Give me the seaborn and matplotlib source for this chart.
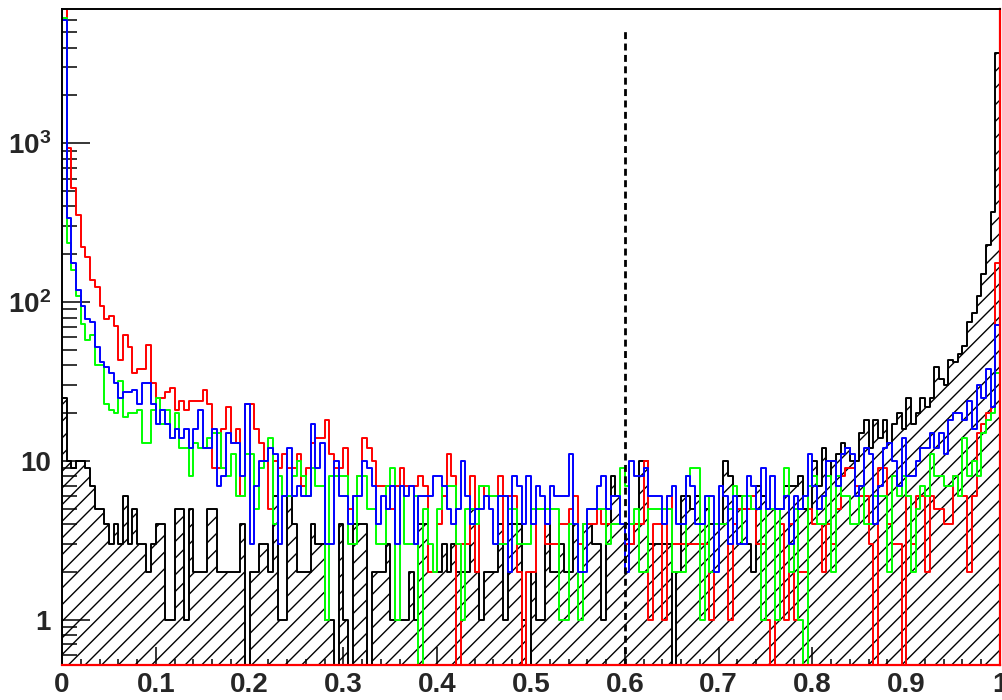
import numpy as np
import pandas as pd
import matplotlib
matplotlib.use("Agg")
import matplotlib.pyplot as plt
import seaborn as sns

# ---- histogram contents: 200 bins on [0, 1] ----
n_bins = 200
x_range = (0.0, 1.0)

black_counts = [
    25, 10, 9, 10, 10, 9, 7, 5, 5, 4,
    3, 4, 3, 6, 3, 5, 3, 3, 2, 3,
    4, 4, 1, 1, 5, 5, 1, 5, 2, 2,
    2, 5, 5, 2, 2, 2, 2, 2, 4, 0,
    2, 2, 3, 3, 2, 6, 1, 1, 6, 4,
    2, 2, 2, 4, 3, 3, 1, 1, 0, 4,
    1, 0, 4, 4, 4, 0, 2, 2, 2, 3,
    1, 1, 1, 1, 2, 1, 4, 4, 2, 2,
    2, 3, 2, 3, 2, 2, 2, 5, 2, 1,
    2, 2, 2, 4, 1, 4, 4, 4, 1, 0,
    2, 1, 1, 4, 2, 2, 3, 2, 2, 4,
    2, 4, 4, 3, 3, 1, 4, 8, 6, 4,
    4, 3, 4, 10, 10, 3, 3, 3, 3, 3,
    0, 2, 6, 6, 5, 6, 4, 5, 4, 4,
    4, 10, 8, 4, 6, 5, 3, 2, 7, 6,
    5, 5, 5, 5, 7, 7, 7, 8, 5, 5,
    10, 7, 12, 8, 10, 11, 13, 12, 10, 10,
    15, 18, 12, 18, 14, 18, 13, 17, 20, 16,
    25, 17, 20, 25, 22, 25, 39, 33, 30, 43,
    42, 47, 53, 75, 85, 110, 150, 230, 370, 3700,
]

red_counts = [
    9000, 930, 520, 355, 222, 193, 138, 125, 94, 78,
    82, 71, 43, 62, 52, 36, 38, 38, 54, 31,
    25, 25, 27, 29, 21, 24, 21, 24, 24, 24,
    28, 23, 9, 9, 16, 22, 13, 16, 6, 23,
    23, 16, 13, 10, 5, 10, 9, 11, 9, 9,
    11, 7, 9, 13, 14, 14, 18, 11, 9, 9,
    12, 5, 6, 8, 14, 12, 10, 7, 7, 7,
    5, 7, 9, 7, 7, 7, 8, 7, 2, 2,
    4, 6, 11, 8, 0, 3, 3, 8, 2, 7,
    6, 6, 6, 8, 3, 6, 6, 2, 0, 2,
    2, 5, 5, 3, 3, 3, 4, 4, 5, 6,
    3, 4, 4, 4, 5, 4, 4, 4, 4, 4,
    3, 3, 4, 4, 10, 1, 4, 4, 1, 6,
    3, 3, 3, 3, 3, 3, 3, 3, 1, 4,
    4, 4, 1, 4, 5, 5, 5, 6, 3, 3,
    1, 0, 1, 4, 1, 4, 1, 2, 2, 5,
    4, 4, 2, 4, 3, 5, 8, 9, 9, 7,
    6, 6, 3, 0, 9, 9, 4, 3, 3, 0,
    6, 3, 6, 6, 2, 6, 5, 5, 4, 4,
    8, 6, 6, 2, 6, 15, 17, 20, 22, 177,
]

green_counts = [
    6100, 235, 160, 110, 73, 58, 62, 40, 40, 23,
    21, 20, 32, 19, 20, 20, 21, 13, 13, 21,
    25, 17, 21, 14, 20, 12, 12, 8, 13, 12,
    12, 14, 15, 15, 9, 8, 11, 6, 6, 11,
    11, 5, 9, 10, 14, 4, 8, 6, 6, 8,
    10, 8, 6, 9, 7, 7, 1, 8, 8, 8,
    8, 3, 3, 8, 8, 5, 5, 3, 3, 7,
    9, 1, 7, 3, 3, 6, 0, 5, 3, 2,
    5, 7, 7, 7, 3, 1, 5, 5, 4, 7,
    7, 6, 6, 3, 3, 5, 5, 3, 3, 3,
    5, 5, 5, 5, 5, 5, 1, 1, 4, 4,
    1, 4, 5, 5, 5, 5, 3, 4, 4, 9,
    7, 4, 5, 2, 2, 5, 5, 5, 5, 5,
    2, 2, 2, 8, 9, 9, 1, 6, 2, 4,
    4, 4, 5, 7, 3, 6, 6, 5, 5, 1,
    5, 5, 1, 5, 9, 2, 5, 1, 0, 7,
    8, 4, 4, 8, 2, 8, 6, 6, 4, 4,
    7, 4, 4, 6, 6, 6, 2, 8, 6, 8,
    6, 2, 5, 7, 6, 11, 8, 8, 7, 7,
    8, 6, 14, 8, 10, 8, 15, 18, 20, 36,
]

blue_counts = [
    6000, 340, 176, 120, 94, 78, 75, 52, 42, 39,
    36, 31, 25, 27, 27, 28, 23, 31, 31, 23,
    17, 21, 17, 14, 16, 14, 16, 12, 16, 21,
    12, 12, 16, 7, 8, 15, 13, 13, 8, 23,
    3, 7, 10, 10, 12, 11, 3, 6, 12, 6,
    7, 6, 6, 17, 9, 13, 3, 3, 10, 6,
    6, 4, 6, 6, 10, 9, 7, 4, 6, 5,
    7, 3, 7, 6, 7, 3, 6, 6, 6, 8,
    8, 7, 5, 4, 5, 10, 6, 4, 5, 5,
    6, 5, 3, 6, 6, 2, 8, 7, 4, 8,
    4, 7, 6, 4, 7, 6, 6, 6, 11, 4,
    2, 2, 5, 5, 7, 8, 5, 6, 6, 4,
    2, 10, 8, 8, 9, 6, 6, 6, 4, 6,
    7, 4, 4, 8, 7, 4, 4, 6, 6, 2,
    7, 6, 3, 6, 3, 3, 8, 7, 5, 9,
    5, 8, 5, 5, 6, 3, 6, 5, 6, 11,
    7, 5, 6, 10, 10, 7, 11, 12, 11, 6,
    7, 12, 11, 4, 7, 12, 13, 10, 7, 14,
    8, 8, 10, 12, 12, 15, 12, 15, 11, 18,
    20, 20, 18, 24, 16, 30, 25, 38, 22, 72,
]

# selection cut drawn as a dashed vertical line
cut_value = 0.6
cut_top = 5300

y_limits = (0.52, 7000)
x_tick_values = [0.0, 0.1, 0.2, 0.3, 0.4, 0.5, 0.6, 0.7, 0.8, 0.9, 1.0]
x_tick_labels = ["0", "0.1", "0.2", "0.3", "0.4", "0.5", "0.6", "0.7", "0.8", "0.9", "1"]
y_tick_values = [1, 10, 100, 1000]
y_tick_labels = ["1", "10", r"$10^{2}$", r"$10^{3}$"]

# ---- build a long table: one row per bin and sample ----
edges = np.linspace(x_range[0], x_range[1], n_bins + 1)
centers = 0.5 * (edges[:-1] + edges[1:])
samples = {
    "black": black_counts,
    "red": red_counts,
    "green": green_counts,
    "blue": blue_counts,
}
df = pd.concat(
    [pd.DataFrame({"x": centers, "w": vals, "sample": name}) for name, vals in samples.items()],
    ignore_index=True,
)

sns.set_style("white")
plt.rcParams["font.family"] = ["Liberation Sans", "DejaVu Sans"]
plt.rcParams["font.weight"] = "bold"
plt.rcParams["mathtext.fontset"] = "custom"
plt.rcParams["mathtext.rm"] = "Liberation Sans:bold"
plt.rcParams["mathtext.bf"] = "Liberation Sans:bold"
plt.rcParams["mathtext.it"] = "Liberation Sans:bold"
plt.rcParams["hatch.linewidth"] = 1.0
plt.rcParams["hatch.color"] = "black"

fig = plt.figure(figsize=(10.02, 7.0), dpi=100)
fig.patch.set_facecolor("white")
ax = fig.add_axes([62 / 1002, 35 / 700, 938 / 1002, 656 / 700])
ax.set_facecolor("white")

hist_kws = dict(x="x", weights="w", bins=n_bins, binrange=x_range, element="step", ax=ax)

# hatched background sample
n_before = len(ax.collections)
sns.histplot(data=df[df["sample"] == "black"], fill=True, color="black",
             linewidth=1.4, **hist_kws)
for coll in ax.collections[n_before:]:
    coll.set_facecolor("none")
    coll.set_edgecolor("black")
    coll.set_hatch("//")
    coll.set_linewidth(1.4)
    coll.set_zorder(2)

# signal samples as open step histograms
line_colors = {"red": "#ff0000", "green": "#00ff00", "blue": "#0000ff"}
for name in ["red", "green", "blue"]:
    sns.histplot(data=df[df["sample"] == name], fill=False,
                 color=line_colors[name], linewidth=1.4, **hist_kws)
for ln in ax.lines:
    ln.set_zorder(3)

ax.set_yscale("log")
ax.set_xlim(*x_range)
ax.set_ylim(*y_limits)

# cut line
ax.plot([cut_value, cut_value], [y_limits[0], cut_top], color="black",
        lw=2.0, linestyle=(0, (2.5, 1.6)), zorder=5)

ax.set_xlabel("")
ax.set_ylabel("")
ax.grid(False)

ax.set_xticks(x_tick_values, labels=x_tick_labels)
ax.set_xticks(np.arange(0, 1.0001, 0.02), minor=True)
ax.set_yticks(y_tick_values, labels=y_tick_labels)
minor_y = [0.6, 0.7, 0.8, 0.9]
for dec in [1, 10, 100, 1000]:
    minor_y += [m * dec for m in range(2, 10)]
minor_y = [v for v in minor_y if y_limits[0] < v < y_limits[1]]
ax.set_yticks(minor_y, minor=True)
ax.yaxis.set_minor_formatter(plt.NullFormatter())

ax.tick_params(axis="x", which="major", direction="in", length=13, width=1.1,
               color="black", labelsize=20, pad=5, bottom=True, top=False)
ax.tick_params(axis="x", which="minor", direction="in", length=4.5, width=1.1,
               color="black", bottom=True, top=False)
ax.tick_params(axis="y", which="major", direction="in", length=20, width=1.1,
               color="black", labelsize=20, pad=8, left=True, right=False)
ax.tick_params(axis="y", which="minor", direction="in", length=11, width=1.1,
               color="black", left=True, right=False)
for lab in ax.get_xticklabels() + ax.get_yticklabels():
    lab.set_fontweight("bold")

for side in ["left", "top"]:
    ax.spines[side].set_color("black")
    ax.spines[side].set_linewidth(1.4)
for side in ["right", "bottom"]:
    ax.spines[side].set_color("#ff0000")
    ax.spines[side].set_linewidth(1.6)
for sp in ax.spines.values():
    sp.set_visible(True)
    sp.set_zorder(10)

fig.savefig("out.png", dpi=100, facecolor="white")
